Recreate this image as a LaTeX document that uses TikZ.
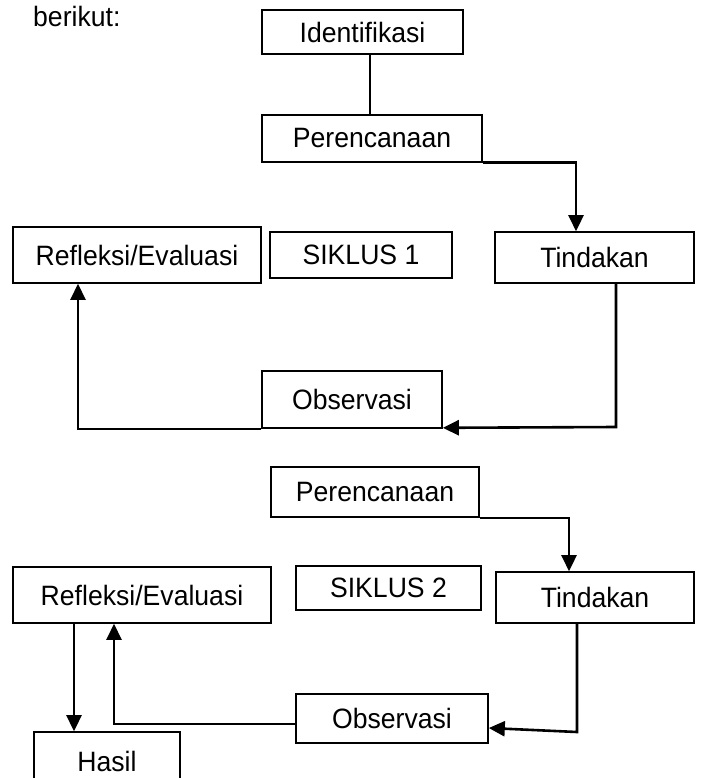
\documentclass[tikz,border=0pt]{standalone}
\usepackage{fontspec}
\setmainfont[FakeStretch=0.95]{Liberation Sans}
\usetikzlibrary{arrows.meta}
\newcommand\fsz{\fontsize{28}{32}\selectfont}
\begin{document}
\begin{tikzpicture}[x=1pt,y=-1pt,
  box/.style={draw, line width=1.6pt, inner sep=0pt, font=\fsz},
  thinconn/.style={line width=1.6pt},
  arr/.style={line width=2.6pt, -{Triangle[length=16pt,width=15pt]}}]
\clip (0,0) rectangle (702,778);
\fill[white] (0,0) rectangle (702,778);
\node[anchor=base west, font=\fsz, inner sep=0pt] (txt) at (33,27) {berikut:};
% cycle 1
\node[box, minimum width=201pt, minimum height=44pt] (id) at (362.5,32) {Identifikasi};
\node[box, minimum width=220pt, minimum height=47pt] (per1) at (372,138.5) {Perencanaan};
\node[box, minimum width=199pt, minimum height=51pt] (tin1) at (594.5,257.5) {Tindakan};
\node[box, minimum width=182pt, minimum height=46pt] (sik1) at (361,255) {SIKLUS 1};
\node[box, minimum width=248pt, minimum height=56pt] (ref1) at (137,255) {Refleksi/Evaluasi};
\node[box, minimum width=180pt, minimum height=57pt] (obs1) at (352,399.5) {Observasi};
% cycle 2
\node[box, minimum width=208pt, minimum height=50pt] (per2) at (375,492) {Perencanaan};
\node[box, minimum width=198pt, minimum height=51pt] (tin2) at (595,597.5) {Tindakan};
\node[box, minimum width=185pt, minimum height=44pt] (sik2) at (388.5,588) {SIKLUS 2};
\node[box, minimum width=258pt, minimum height=56pt] (ref2) at (142,595) {Refleksi/Evaluasi};
\node[box, minimum width=192pt, minimum height=49pt] (obs2) at (392,718.5) {Observasi};
\node[box, minimum width=146pt, minimum height=58pt] (hasil) at (107,761) {Hasil};
% guide coordinates
\coordinate (c370) at (370,0);
\coordinate (c576) at (576,0);
\coordinate (c78) at (78,0);
\coordinate (c616) at (616,0);
\coordinate (c569) at (569,0);
\coordinate (c74) at (74,0);
\coordinate (c114) at (114,0);
\coordinate (c577) at (577,0);
\coordinate (k1) at (616,427);
\coordinate (k2) at (577,732);
% connectors
\draw[thinconn] (c370 |- id.south) -- (c370 |- per1.north);
\draw[arr] (per1.south east) -| (c576 |- tin1.north);
\draw[arr] (obs1.south west) -| (c78 |- ref1.south);
\draw[arr] (c616 |- tin1.south) -- (k1) -- ([yshift=1pt]obs1.south east);
\draw[arr] (per2.south east) -| (c569 |- tin2.north);
\draw[arr] (c74 |- ref2.south) -- (c74 |- hasil.north);
\draw[arr] ([yshift=-5.5pt]obs2.west) -| (c114 |- ref2.south);
\draw[arr] (c577 |- tin2.south) -- (k2) -- ([yshift=-9.5pt]obs2.east);
\end{tikzpicture}
\end{document}
